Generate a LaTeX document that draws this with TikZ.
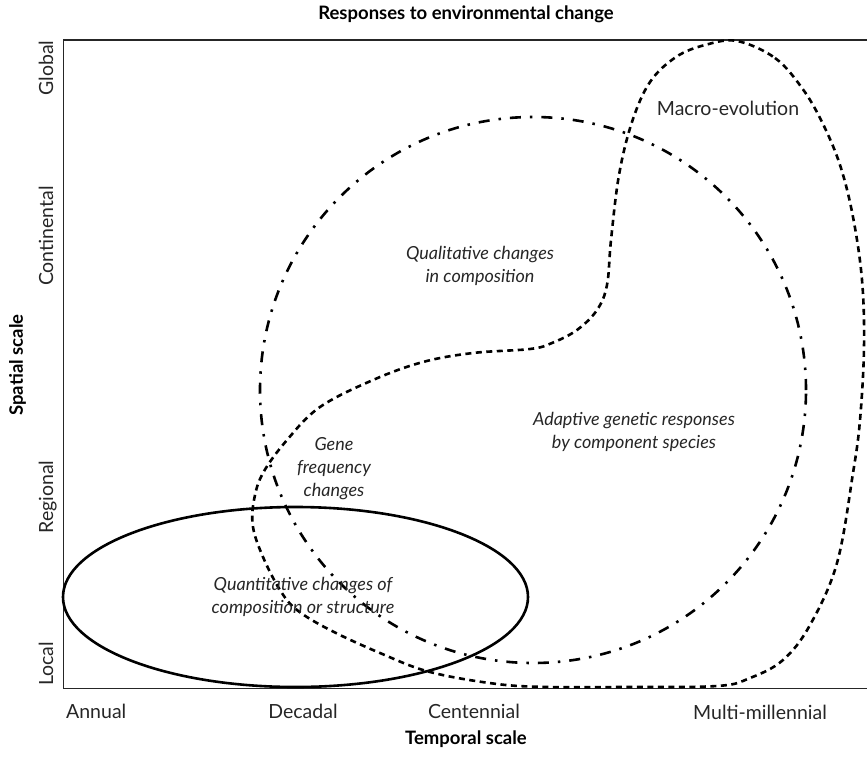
\documentclass[tikz,border=0pt]{standalone}
\usepackage{fontspec}
\setmainfont{Lato}
\begin{document}
\begin{tikzpicture}[x=1pt,y=-1pt,
  frame/.style={draw=black!85, line width=1.3pt},
  solidline/.style={draw=black, line width=2.6pt},
  dashline/.style={draw=black, line width=2.6pt, dash pattern=on 6pt off 4.5pt},
  dashdotline/.style={draw=black, line width=2.6pt, dash pattern=on 11pt off 9pt on 2.5pt off 9pt},
  lab/.style={font=\fontsize{19.5}{23}\selectfont, text=black!85, inner sep=0pt},
  ital/.style={font=\fontsize{18}{23}\selectfont\itshape, align=center, text=black!85, inner sep=0pt},
  head/.style={font=\fontsize{18.5}{22}\selectfont\bfseries, text=black, inner sep=0pt},
]
\useasboundingbox (0,0) rectangle (867,765);

% axes frame (open on the right)
\draw[frame] (867,40) -- (63.5,40) -- (63.5,688.5) -- (867,688.5);

% quantitative changes: solid ellipse
\draw[solidline] (295.5,597) ellipse [x radius=232.5pt, y radius=90pt];

% adaptive genetic responses: dash-dot outline
\draw[dashdotline] (533,390) circle [radius=273pt];

% gene frequency / macro-evolution: dashed outline
\draw[dashline] plot[smooth cycle, tension=0.6] coordinates {
  (737,41) (775,58) (802,88) (822,122) (840,165) (853,217) (862,280)
  (864,347) (860,420) (853,473) (837,563) (810,625) (783,660) (750,678)
  (717,686) (620,687) (550,687) (497,684) (430,672) (380,653) (330,630)
  (297,610) (280,590) (263,557) (253,527) (254,500) (263,473) (287,440)
  (320,407) (373,380) (423,362) (473,353) (530,349) (552,343) (577,330)
  (597,310) (607,285) (611,240) (619,175) (632,122) (650,82) (676,57)
  (705,45)};

% region labels
\node[ital] (qual)  at (480,266) {Qualitative changes\\in composition};
\node[ital] (adapt) at (634,432) {Adaptive genetic responses\\by component species};
\node[ital] (gene)  at (334,469) {Gene\\frequency\\changes};
\node[ital] (quant) at (303,597) {Quantitative changes of\\composition or structure};
\node[lab]  (macro) at (728,108) {Macro-evolution};

% temporal ticks
\node[lab, anchor=base west] (annual) at (66,718) {Annual};
\node[lab, anchor=base] (decadal) at (303,718) {Decadal};
\node[lab, anchor=base] (centennial) at (474,718) {Centennial};
\node[lab, anchor=base] (millennial) at (760,719) {Multi-millennial};

% spatial ticks
\node[lab, rotate=90, anchor=base] (global) at (53,68) {Global};
\node[lab, rotate=90, anchor=base] (continental) at (53,236) {Continental};
\node[lab, rotate=90, anchor=base] (regional) at (53,497) {Regional};
\node[lab, rotate=90, anchor=base] (local) at (53,664) {Local};

% titles
\node[head] (title) at (466,14) {Responses to environmental change};
\node[head] (xtitle) at (466,739) {Temporal scale};
\node[head, rotate=90, anchor=base] (ytitle) at (23,365) {Spatial scale};
\end{tikzpicture}
\end{document}
